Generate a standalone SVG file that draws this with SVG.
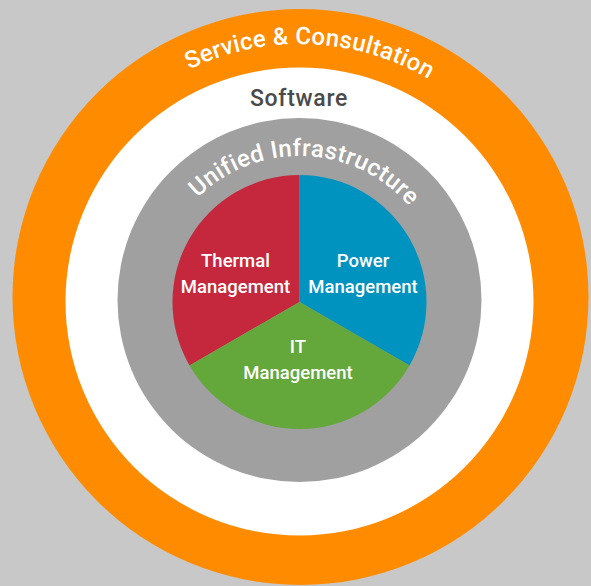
<svg xmlns="http://www.w3.org/2000/svg" xmlns:xlink="http://www.w3.org/1999/xlink" width="591" height="586" viewBox="0 0 591 586">
<style>
text{font-family:Roboto,"Liberation Sans",sans-serif;font-weight:500}
.ring{font-size:24px;fill:#fff}
.lbl{font-size:18.5px;fill:#fff;text-anchor:middle}
</style>
<defs>
<path id="arcOuter" d="M47,297 A253,253 0 0 1 553,297"/>
<path id="arcInner" d="M154.5,301 A145,145 0 0 1 444.5,301"/>
</defs>
<rect width="591" height="586" fill="#c8c8c8"/>
<g id="service">
<circle cx="300.5" cy="297" r="288" fill="#ff8c00"/>
<text class="ring" letter-spacing="0.3"><textPath xlink:href="#arcOuter" startOffset="51.3%" text-anchor="middle">Service &amp; Consultation</textPath></text>
</g>
<g id="software">
<circle cx="299.5" cy="301.5" r="234" fill="#ffffff"/>
<text x="299" y="105.5" font-size="23" fill="#4a4a4c" text-anchor="middle" letter-spacing="0.7">Software</text>
</g>
<g id="infrastructure">
<circle cx="299.5" cy="300" r="182" fill="#a0a0a0"/>
<text class="ring" letter-spacing="0.4"><textPath xlink:href="#arcInner" startOffset="51.3%" text-anchor="middle">Unified Infrastructure</textPath></text>
</g>
<g id="thermal">
<path d="M299.5,302 L299.5,175 A127,127 0 0 0 189.5,365.5 Z" fill="#c5283d"/>
<text class="lbl" x="235.5" y="267">Thermal</text>
<text class="lbl" x="235.5" y="293">Management</text>
</g>
<g id="power">
<path d="M299.5,302 L299.5,175 A127,127 0 0 1 409.5,365.5 Z" fill="#0093bf"/>
<text class="lbl" x="363" y="267">Power</text>
<text class="lbl" x="363" y="293">Management</text>
</g>
<g id="it">
<path d="M299.5,302 L409.5,365.5 A127,127 0 0 1 189.5,365.5 Z" fill="#64a73b"/>
<text class="lbl" x="298" y="353">IT</text>
<text class="lbl" x="298" y="379">Management</text>
</g>
<g id="connectors"/>
</svg>
